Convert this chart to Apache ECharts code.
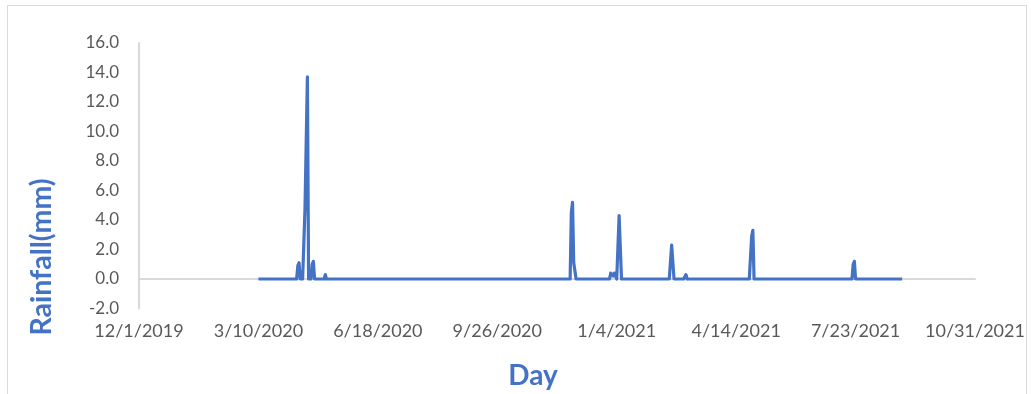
<!DOCTYPE html>
<html>
<head>
<meta charset="utf-8">
<script src="https://cdn.jsdelivr.net/npm/echarts@6/dist/echarts.min.js"></script>
<style>
  html, body { margin: 0; padding: 0; background: #ffffff; }
  #chart { width: 1031px; height: 394px; }
</style>
</head>
<body>
<div id="chart"></div>
<script>
// Logged period of the daily rain gauge
const recordStart = '2020-03-10';
const recordEnd = '2021-08-31';

// Days with rainfall; every other day in the period is 0.0 mm
const rainDates = [
  '2020-04-12', '2020-04-13', '2020-04-18', '2020-04-19', '2020-04-20', '2020-04-24', '2020-04-25', '2020-05-05',
  '2020-11-27', '2020-11-28', '2020-11-29', '2020-11-30',
  '2020-12-30', '2020-12-31', '2021-01-01', '2021-01-02', '2021-01-03',
  '2021-01-06', '2021-01-07',
  '2021-02-19', '2021-02-20', '2021-03-03',
  '2021-04-27', '2021-04-28',
  '2021-07-21', '2021-07-22'
];
const rainMm = [
  0.9, 1.1, 4.8, 4.9, 13.7, 1.0, 1.2, 0.3,
  4.5, 5.2, 1.1, 1.0,
  0.4, 0.4, 0.2, 0.4, 0.4,
  4.3, 4.2,
  2.3, 2.3, 0.3,
  2.9, 3.3,
  1.0, 1.2
];

// Horizontal axis: day counts from this date, one label every 100 days
const axisStart = '2019-12-01';
const xTickLabels = ['12/1/2019', '3/10/2020', '6/18/2020', '9/26/2020', '1/4/2021', '4/14/2021', '7/23/2021', '10/31/2021'];
const xTickStep = 100;
// Vertical axis ticks (mm)
const yTickValues = [-2, 0, 2, 4, 6, 8, 10, 12, 14, 16];

const DAY_MS = 86400000;
function utcOf(iso) {
  const [y, m, d] = iso.split('-').map(Number);
  return Date.UTC(y, m - 1, d);
}
function dayNumber(iso) {
  return Math.round((utcOf(iso) - utcOf(axisStart)) / DAY_MS);
}

// Build the daily series over the logged period
const rainByDay = new Map(rainDates.map((d, i) => [dayNumber(d), rainMm[i]]));
const series = [];
for (let n = dayNumber(recordStart); n <= dayNumber(recordEnd); n++) {
  series.push([n, rainByDay.has(n) ? rainByDay.get(n) : 0]);
}

const xMax = xTickStep * (xTickLabels.length - 1);
const yMin = yTickValues[0];
const yMax = yTickValues[yTickValues.length - 1];
const yStep = yTickValues[1] - yTickValues[0];

const tickFont = { fontFamily: 'Lato', color: '#595959' };
const titleColor = '#4472C4';

const chart = echarts.init(document.getElementById('chart'), null, { renderer: 'canvas' });
chart.setOption({
  animation: false,
  backgroundColor: '#ffffff',
  grid: { left: 139, right: 56, top: 43, bottom: 85.5, containLabel: false },
  xAxis: [
    {
      type: 'value',
      min: 0,
      max: xMax,
      interval: xTickStep,
      position: 'bottom',
      axisLine: { show: false, onZero: false },
      axisTick: { show: false },
      splitLine: { show: false },
      axisLabel: {
        ...tickFont,
        fontSize: 18,
        margin: 14,
        formatter: v => xTickLabels[Math.round(v / xTickStep)] || ''
      }
    },
    {
      // horizontal axis line drawn across the 0 mm level
      type: 'value',
      min: 0,
      max: xMax,
      position: 'bottom',
      axisLine: { show: true, onZero: true, lineStyle: { color: '#d9d9d9', width: 2 } },
      axisTick: { show: false },
      axisLabel: { show: false },
      splitLine: { show: false }
    }
  ],
  yAxis: {
    type: 'value',
    min: yMin,
    max: yMax,
    interval: yStep,
    axisLine: { show: true, onZero: false, lineStyle: { color: '#d9d9d9', width: 2 } },
    axisTick: { show: false },
    splitLine: { show: false },
    axisLabel: {
      ...tickFont,
      fontSize: 17,
      margin: 20,
      formatter: v => v.toFixed(1)
    }
  },
  series: [{
    type: 'line',
    xAxisIndex: 0,
    data: series,
    showSymbol: false,
    symbol: 'none',
    lineStyle: { color: '#4472C4', width: 3.2, join: 'round' },
    z: 5
  }],
  graphic: [
    {
      type: 'rect',
      shape: { x: 7.5, y: 5.5, width: 1019, height: 392 },
      style: { fill: 'none', stroke: '#d9d9d9', lineWidth: 1 },
      silent: true,
      z: -10
    },
    {
      type: 'text',
      x: 42,
      y: 257,
      rotation: Math.PI / 2,
      style: {
        text: 'Rainfall(mm)',
        fill: titleColor,
        font: 'bold 28.5px Lato',
        align: 'center',
        verticalAlign: 'middle'
      }
    },
    {
      type: 'text',
      x: 533,
      y: 376,
      style: {
        text: 'Day',
        fill: titleColor,
        font: 'bold 28px Lato',
        align: 'center',
        verticalAlign: 'middle'
      }
    }
  ]
});
</script>
</body>
</html>
